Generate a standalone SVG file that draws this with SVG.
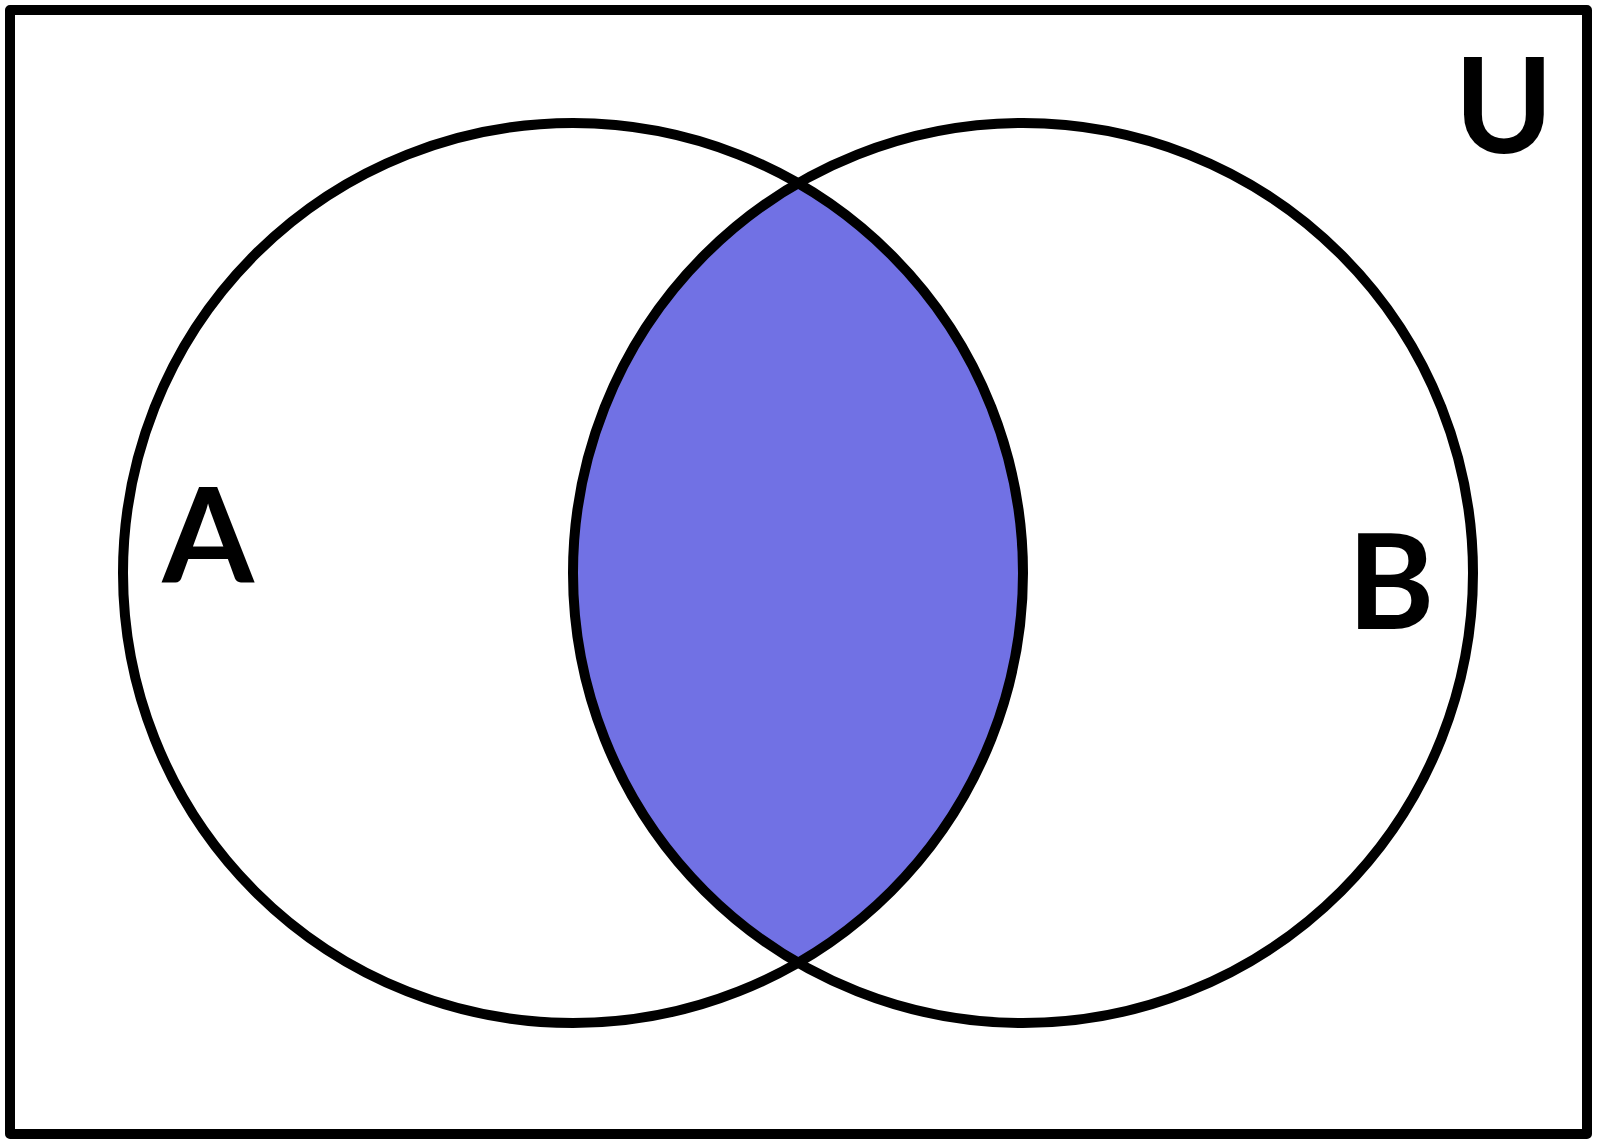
<svg xmlns="http://www.w3.org/2000/svg" width="1600" height="1146" viewBox="0 0 1600 1146">
<style>
.ol{fill:none;stroke:#000;stroke-width:10;stroke-linejoin:round}
.lbl{font-family:Lato,Roboto,sans-serif;font-weight:700;fill:#000;text-anchor:middle}
</style>
<rect width="1600" height="1146" fill="#fff"/>
<g id="universe">
<rect class="ol" x="10" y="10" width="1577" height="1124"/>
<text class="lbl" x="1504" y="153" font-size="133">U</text>
</g>
<g id="intersection">
<path d="M798,183 A450,450 0 0,0 798,963 A450,450 0 0,0 798,183 Z" fill="#7171E4"/>
</g>
<g id="setA">
<circle class="ol" cx="573" cy="573" r="450"/>
<text class="lbl" x="208" y="583" font-size="132">A</text>
</g>
<g id="setB">
<circle class="ol" cx="1023" cy="573" r="450"/>
<text class="lbl" x="1391" y="629" font-size="132">B</text>
</g>
<g id="connectors"/>
</svg>
